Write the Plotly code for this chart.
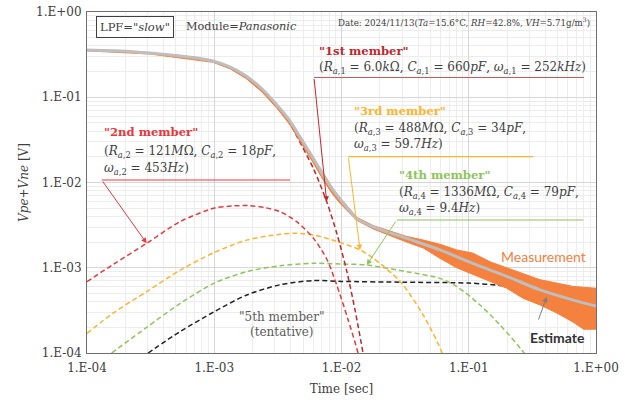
import plotly.graph_objects as go

# ---------------- data ----------------
est_t = [1e-4, 1.816e-4, 3.126e-4, 5.38e-4, 7.73e-4, 9.77e-4, 1.337e-3, 1.778e-3, 2.377e-3, 3.11e-3,
         3.94e-3, 4.47e-3, 5.97e-3, 7.41e-3, 8.57e-3, 9.73e-3, 1.167e-2, 1.318e-2, 1.778e-2, 3.25e-2,
         5.94e-2, 0.1086, 0.1986, 0.363, 0.664, 1.0]
est_v = [0.358, 0.349, 0.330, 0.305, 0.285, 0.266, 0.226, 0.1775, 0.125, 0.0811,
         0.0526, 0.0391, 0.0194, 0.0113, 0.00817, 0.0064, 0.00463, 0.0038, 0.00302, 0.00221,
         0.00162, 0.00112, 0.000794, 0.00055, 0.000417, 0.000355]

meas_t = [1e-4, 3.126e-4, 9.77e-4, 1.337e-3, 1.778e-3, 2.377e-3, 3.11e-3, 3.94e-3, 4.47e-3, 5.97e-3,
          7.41e-3, 8.57e-3, 9.73e-3, 1.167e-2, 1.318e-2, 1.778e-2, 3.25e-2, 4.40e-2, 5.94e-2, 8.04e-2,
          0.1086, 0.1469, 0.1986, 0.2685, 0.363, 0.491, 0.664, 0.8, 1.0]
meas_hi = [0.362, 0.334, 0.269, 0.229, 0.18, 0.127, 0.0825, 0.0537, 0.04, 0.0199,
           0.0117, 0.0085, 0.00665, 0.00478, 0.0039, 0.00312, 0.00233, 0.002113, 0.001884, 0.00162,
           0.001479, 0.001175, 0.001, 0.000861, 0.000724, 0.000661, 0.000603, 0.00059, 0.000575]
meas_lo = [0.35, 0.321, 0.257, 0.215, 0.166, 0.115, 0.0742, 0.0475, 0.0352, 0.0172,
           0.0099, 0.0072, 0.0057, 0.0043, 0.0036, 0.00285, 0.002, 0.0017, 0.00129, 0.001,
           0.000822, 0.000692, 0.000575, 0.000437, 0.000366, 0.000295, 0.000229, 0.00019, 0.00019]

m1_t = [1e-4, 3.126e-4, 9.77e-4, 1.778e-3, 2.377e-3, 3.11e-3, 3.94e-3, 4.47e-3, 6.03e-3, 7.67e-3,
        9.2e-3, 1.104e-2, 1.288e-2, 1.476e-2, 1.585e-2]
m1_v = [0.358, 0.330, 0.266, 0.1765, 0.123, 0.0785, 0.0485, 0.0345, 0.01445, 0.0059,
        0.00251, 0.00089, 0.0003, 1.0e-4, 5.6e-5]

m2_t = [1e-4, 1.61e-4, 2.944e-4, 5.38e-4, 1e-3, 1.41e-3, 1.905e-3, 2.51e-3, 3.29e-3, 4.45e-3,
        6.03e-3, 7.67e-3, 9.16e-3, 1.122e-2, 1.349e-2, 1.445e-2]
m2_v = [6.87e-4, 1.096e-3, 1.936e-3, 3.47e-3, 5.01e-3, 5.31e-3, 5.35e-3, 5.07e-3, 4.55e-3, 3.47e-3,
        2.21e-3, 1.259e-3, 6.31e-4, 2.51e-4, 1.0e-4, 6.3e-5]

m3_t = [1e-4, 1.61e-4, 2.944e-4, 5.38e-4, 1e-3, 1.8e-3, 3.29e-3, 4.45e-3, 6.03e-3, 9.16e-3,
        1.396e-2, 1.778e-2, 2.884e-2, 4.365e-2, 6.17e-2, 6.61e-2]
m3_v = [1.70e-4, 2.95e-4, 5.25e-4, 9.33e-4, 1.51e-3, 2.11e-3, 2.47e-3, 2.535e-3, 2.42e-3, 2.04e-3,
        1.62e-3, 1.29e-3, 6.92e-4, 2.82e-4, 1.0e-4, 6.3e-5]

m4_t = [1.563e-4, 2.944e-4, 5.38e-4, 1e-3, 1.8e-3, 3.29e-3, 6.03e-3, 9.73e-3, 1.585e-2, 3.25e-2,
        5.94e-2, 8.04e-2, 0.1225, 0.1758, 0.2716, 0.295]
m4_v = [1.0e-4, 2.0e-4, 3.8e-4, 6.61e-4, 9.0e-4, 1.057e-3, 1.127e-3, 1.109e-3, 1.076e-3, 9.0e-4,
        7.5e-4, 6.03e-4, 3.66e-4, 2.14e-4, 1.0e-4, 7.9e-5]

m5_t = [3.02e-4, 5.38e-4, 1e-3, 1.8e-3, 3.29e-3, 6.03e-3, 1e-2, 3.16e-2, 0.1, 0.1986, 0.2818]
m5_v = [1e-4, 1.78e-4, 3.05e-4, 4.79e-4, 6.31e-4, 7.08e-4, 6.92e-4, 6.76e-4, 6.61e-4, 6.1e-4, 5.75e-4]

tick_vals = [1e-4, 1e-3, 1e-2, 1e-1, 1.0]
x_tick_text = ["1.E-04", "1.E-03", "1.E-02", "1.E-01", "1.E+00"]
y_tick_text = ["1.E-04", "1.E-03", "1.E-02", "1.E-01", "1.E+00"]

# ---------------- styling ----------------
C1 = "#C0282D"
C2 = "#E8383D"
C3 = "#FFB42E"
C4 = "#8CC65A"
C5 = "#222222"
CMEAS = "#F4813E"
CEST = "#BEBEBE"
TXT = "#404040"
SERIF = "DejaVu Serif"
SANS = "Lato"

L, R, T, B = 87, 35, 12, 48
W, H = 631, 401
PW, PH = W - L - R, H - T - B


def P(px, py):
    return (px - L) / PW, (H - B - py) / PH


fig = go.Figure()


def member(t, v, color):
    fig.add_trace(go.Scatter(x=t, y=v, mode="lines", line=dict(color=color, width=1.5, dash="5px,3px",
                                                            shape="spline", smoothing=0.8),
                             hoverinfo="skip", showlegend=False))


member(m5_t, m5_v, C5)
member(m4_t, m4_v, C4)
member(m3_t, m3_v, C3)
member(m2_t, m2_v, C2)
member(m1_t, m1_v, C1)

# measurement band
fig.add_trace(go.Scatter(x=meas_t + meas_t[::-1], y=meas_hi + meas_lo[::-1], mode="lines",
                         fill="toself", fillcolor=CMEAS, line=dict(color=CMEAS, width=1),
                         hoverinfo="skip", showlegend=False))
# estimate
fig.add_trace(go.Scatter(x=est_t, y=est_v, mode="lines",
                         line=dict(color=CEST, width=3, shape="spline", smoothing=0.8),
                         hoverinfo="skip", showlegend=False))

ann = []
shapes = []


def text(px, py, s, size=12, color=TXT, anchor="left", family=SERIF, **kw):
    x, y = P(px, py)
    ann.append(dict(x=x, y=y, xref="paper", yref="paper", text=s, showarrow=False, xanchor=anchor,
                    yanchor="middle", font=dict(family=family, size=size, color=color), **kw))


def hline(x0, x1, y, color):
    a0, b0 = P(x0, y)
    a1, _ = P(x1, y)
    shapes.append(dict(type="line", xref="paper", yref="paper", x0=a0, x1=a1, y0=b0, y1=b0,
                       line=dict(color=color, width=1.2)))


def arrow(tail, tip, color):
    x, y = P(*tip)
    ann.append(dict(x=x, y=y, xref="paper", yref="paper", text="", showarrow=True,
                    ax=tail[0] - tip[0], ay=tail[1] - tip[1], arrowhead=2, arrowsize=1.1,
                    arrowwidth=1, arrowcolor=color, standoff=0, startstandoff=0))


def sub(n):
    return "<sub><i>a</i>,%d</sub>" % n


text(135, 27, 'LPF=<i>"slow"</i>', size=11.5, anchor="center", bordercolor="#404040",
     borderwidth=1, borderpad=3, bgcolor="white")
text(184, 27, "Module=<i>Panasonic</i>", size=11.3)
text(592, 22, "Date: 2024/11/13(<i>Ta</i>=15.6°C, <i>RH</i>=42.8%, <i>VH</i>=5.71g/m<sup>3</sup>)",
     size=8.7, anchor="right")

# 1st
text(317, 51, '<b>"1st member"</b>', size=11.6, color=C1)
text(317, 68, "(<i>R</i>%s = 6.0<i>k</i>Ω, <i>C</i>%s = 660<i>pF</i>, <i>ω</i>%s = 252<i>kHz</i>)"
     % (sub(1), sub(1), sub(1)), size=12)
hline(314, 584, 77.5, "#D05A5A")
arrow((314, 77.5), (326.7, 201.7), C1)

# 2nd
text(101.5, 132, '<b>"2nd member"</b>', size=11.6, color=C2)
text(101.5, 151.5, "(<i>R</i>%s = 121<i>M</i>Ω, <i>C</i>%s = 18<i>pF</i>," % (sub(2), sub(2)), size=12)
text(101.5, 168.5, "<i>ω</i>%s = 453<i>Hz</i>)" % sub(2), size=12)
hline(101.7, 290, 180, C2)
arrow((101.7, 180), (146.7, 243.3), C2)

# 3rd
text(351.5, 111, '<b>"3rd member"</b>', size=11.6, color=C3)
text(351.5, 128.5, "(<i>R</i>%s = 488<i>M</i>Ω, <i>C</i>%s = 34<i>pF</i>," % (sub(3), sub(3)), size=12)
text(351.5, 145, "<i>ω</i>%s = 59.7<i>Hz</i>)" % sub(3), size=12)
hline(348.3, 533.3, 156.7, C3)
arrow((348.3, 156.7), (360, 250), C3)

# 4th
text(396.5, 175, '<b>"4th member"</b>', size=11.6, color=C4)
text(396.5, 192.5, "(<i>R</i>%s = 1336<i>M</i>Ω, <i>C</i>%s = 79<i>pF</i>," % (sub(4), sub(4)), size=12)
text(396.5, 209.5, "<i>ω</i>%s = 9.4<i>Hz</i>)" % sub(4), size=12)
hline(396.7, 583.3, 220, C4)
arrow((396.7, 220), (366.7, 265), C4)

# 5th
text(281.7, 316.5, '"5th member"', size=12, color="#595959", anchor="center")
text(281.7, 332, "(tentative)", size=12, color="#595959", anchor="center")

# measurement / estimate labels
text(543.5, 256, "Measurement", size=14, color=CMEAS, anchor="center", family=SANS)
text(557.5, 337.5, "<b>Estimate</b>", size=14, color="#333333", anchor="center", family=SANS)
arrow((538, 321), (546.7, 296.7), "#7F7F7F")

axis_common = dict(type="log", range=[-4, 0], tickvals=tick_vals, showline=True, mirror=True,
                   linecolor="#6E6E6E", linewidth=1, showgrid=True, gridcolor="#D6D6D6", gridwidth=1.3,
                   zeroline=False, ticks="", automargin=False,
                   tickfont=dict(family=SERIF, size=12, color=TXT),
                   minor=dict(dtick="D1", showgrid=True, gridcolor="#EDEDED", gridwidth=1, ticks=""))

fig.update_layout(
    width=W, height=H, margin=dict(l=L, r=R, t=T, b=B, autoexpand=False),
    paper_bgcolor="white", plot_bgcolor="white",
    showlegend=False, annotations=ann, shapes=shapes,
    xaxis=dict(axis_common, ticktext=x_tick_text, ticklabelstandoff=4,
               title=dict(text="Time [sec]", font=dict(family=SERIF, size=12, color=TXT), standoff=10)),
    yaxis=dict(axis_common, ticktext=y_tick_text, ticklabelstandoff=2,
               title=dict(text="<i>Vpe+Vne</i> [V]", font=dict(family=SERIF, size=12, color=TXT), standoff=4)),
)

fig.write_html("out.html")
